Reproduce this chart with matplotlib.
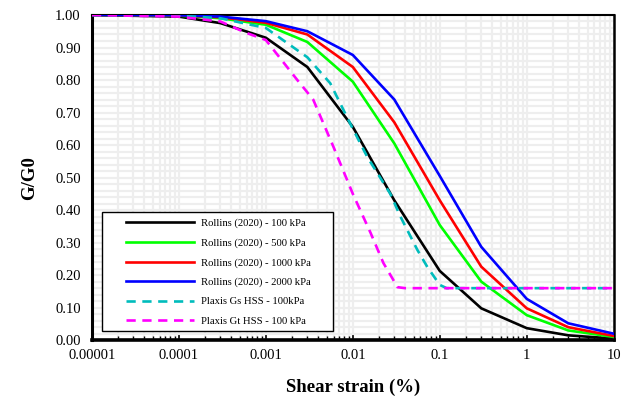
import matplotlib
matplotlib.use("Agg")
import matplotlib.pyplot as plt
from matplotlib.patches import Rectangle
from matplotlib.ticker import FixedLocator, LogLocator, MultipleLocator, NullFormatter

plt.rcParams['font.family'] = ['Liberation Serif', 'DejaVu Serif']

# Rollins (2020) curves
strain_r = [0.00001, 0.0001, 0.0003, 0.001, 0.003, 0.01, 0.03, 0.1, 0.3, 1, 3, 10]
g_100 = [1.0, 0.995, 0.975, 0.93, 0.84, 0.656, 0.43, 0.213, 0.098, 0.037, 0.015, 0.005]
g_500 = [1.0, 0.998, 0.99, 0.97, 0.917, 0.795, 0.605, 0.354, 0.18, 0.077, 0.03, 0.01]
g_1000 = [1.0, 0.999, 0.993, 0.976, 0.94, 0.84, 0.67, 0.43, 0.226, 0.098, 0.04, 0.013]
g_2000 = [1.0, 0.999, 0.995, 0.981, 0.95, 0.877, 0.74, 0.505, 0.287, 0.127, 0.052, 0.02]

# Plaxis HSS curves
strain_gs = [0.00001, 0.0001, 0.0003, 0.001, 0.003, 0.0055, 0.01, 0.0147, 0.027, 0.0353, 0.0554, 0.072, 0.1, 0.12, 10]
g_gs = [1.0, 0.998, 0.99, 0.96, 0.87, 0.79, 0.65, 0.563, 0.45, 0.38, 0.277, 0.225, 0.17, 0.16, 0.16]
strain_gt = [0.00001, 0.0001, 0.0003, 0.00061, 0.001, 0.0023, 0.0035, 0.006, 0.01, 0.016, 0.0225, 0.0327, 0.04, 10]
g_gt = [1.0, 0.995, 0.98, 0.944, 0.923, 0.80, 0.74, 0.594, 0.45, 0.33, 0.237, 0.163, 0.16, 0.16]

labels = ["Rollins (2020) - 100 kPa", "Rollins (2020) - 500 kPa", "Rollins (2020) - 1000 kPa",
          "Rollins (2020) - 2000 kPa", "Plaxis Gs HSS - 100kPa", "Plaxis Gt HSS - 100 kPa"]
xticks = [0.00001, 0.0001, 0.001, 0.01, 0.1, 1, 10]
xticklabels = ["0.00001", "0.0001", "0.001", "0.01", "0.1", "1", "10"]

fig = plt.figure(figsize=(6.34, 4.05), dpi=100)
ax = fig.add_axes([0.145, 0.160, 0.823, 0.803])

lw = 1.9
dash = (0, (3.5, 2.5))
h0, = ax.plot(strain_r, g_100, color='black', lw=lw, zorder=3)
h1, = ax.plot(strain_r, g_500, color='#00ff00', lw=lw, zorder=3)
h2, = ax.plot(strain_r, g_1000, color='#ff0000', lw=lw, zorder=3)
h3, = ax.plot(strain_r, g_2000, color='#0000ff', lw=lw, zorder=3)
h4, = ax.plot(strain_gs, g_gs, color='#00bcbc', lw=lw, ls=dash, zorder=3)
h5, = ax.plot(strain_gt, g_gt, color='#ff00ff', lw=lw, ls=dash, zorder=4)

ax.set_xscale('log')
ax.set_xlim(0.00001, 10)
ax.set_ylim(0, 1.0)
ax.xaxis.set_major_locator(FixedLocator(xticks))
ax.set_xticklabels(xticklabels)
ax.xaxis.set_minor_locator(LogLocator(base=10, subs=range(2, 10), numticks=20))
ax.xaxis.set_minor_formatter(NullFormatter())
ax.yaxis.set_major_locator(MultipleLocator(0.1))
ax.yaxis.set_minor_locator(MultipleLocator(0.02))
ax.set_yticklabels([f"{v:.2f}" for v in ax.get_yticks()])

ax.grid(True, which='both', color='#eeeeee', lw=1.6, zorder=0)
ax.set_axisbelow(True)

ax.tick_params(axis='x', which='major', direction='in', length=5, width=1.2, labelsize=10.5, pad=6)
ax.tick_params(axis='x', which='minor', direction='in', length=3, width=1.0)
ax.tick_params(axis='y', which='both', length=0, labelsize=10.5, pad=8)

ax.spines['left'].set_linewidth(2.2)
ax.spines['bottom'].set_linewidth(2.6)
ax.spines['top'].set_linewidth(1.5)
ax.spines['right'].set_linewidth(1.8)

ax.set_xlabel("Shear strain (%)", fontsize=13.5, fontweight='bold', labelpad=12)
ax.set_ylabel("G/G0", fontsize=13.5, fontweight='bold', labelpad=12)

# legend box drawn as a frame, legend itself frameless
ax.add_patch(Rectangle((0.019, 0.028), 0.443, 0.366, transform=ax.transAxes,
                       facecolor='white', edgecolor='black', lw=1.0, zorder=5))
leg = ax.legend([h0, h1, h2, h3, h4, h5], labels,
                loc='center left', bbox_to_anchor=(0.065, 0.209), fontsize=7.7,
                frameon=False, handlelength=6.4, handletextpad=0.6, labelspacing=0.92,
                borderpad=0, borderaxespad=0)
leg.set_zorder(6)

fig.savefig("out.png", dpi=100)
